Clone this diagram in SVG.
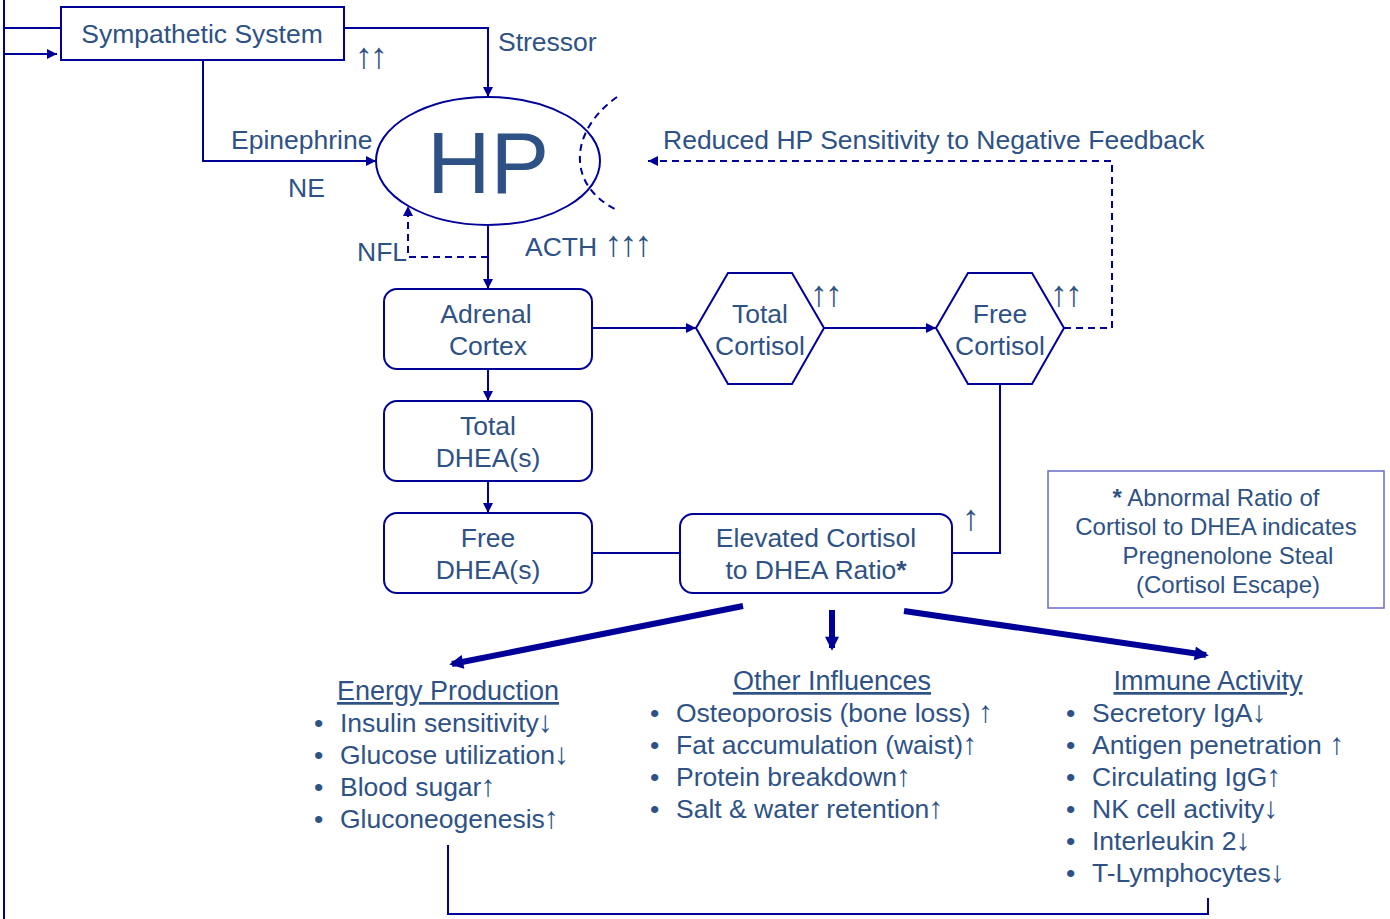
<svg xmlns="http://www.w3.org/2000/svg" width="1390" height="919" viewBox="0 0 1390 919">
<style>
.t{font-family:"Liberation Sans",Arial,sans-serif;font-size:26.5px;fill:#2E5286}
.c{text-anchor:middle}
.ln{fill:none;stroke:#000099;stroke-width:2}
.ds{fill:none;stroke:#000099;stroke-width:2;stroke-dasharray:7,5}
.bx{fill:#fff;stroke:#000099;stroke-width:2}
.th{fill:none;stroke:#000099;stroke-width:6}
.h{font-size:27px;text-decoration:underline}
.n{font-size:24px}
.ar{font-size:36px;letter-spacing:-3px}
.al{font-size:30px}
</style>
<defs>
<marker id="a" viewBox="0 0 10 10" refX="10" refY="5" markerWidth="10" markerHeight="10" markerUnits="userSpaceOnUse" orient="auto"><path d="M0,0 L10,5 L0,10 z" fill="#000099"/></marker>
<marker id="b" viewBox="0 0 10 10" refX="8" refY="5" markerWidth="16" markerHeight="14" markerUnits="userSpaceOnUse" orient="auto"><path d="M0,0 L10,5 L0,10 z" fill="#000099"/></marker>
</defs>
<rect width="1390" height="919" fill="#fff"/>
<g id="sympathetic">
<rect class="bx" x="61" y="7" width="283" height="53"/>
<text class="t c" x="202" y="43">Sympathetic System</text>
</g>
<g id="hp">
<ellipse class="bx" cx="488" cy="161" rx="112" ry="64"/>
<text class="t c" x="488" y="193" style="font-size:88px">HP</text>
</g>
<g id="adrenal">
<rect class="bx" x="384" y="289" width="208" height="80" rx="13"/>
<text class="t c" x="486" y="323">Adrenal</text>
<text class="t c" x="488" y="355">Cortex</text>
</g>
<g id="totaldhea">
<rect class="bx" x="384" y="401" width="208" height="80" rx="13"/>
<text class="t c" x="488" y="435">Total</text>
<text class="t c" x="488" y="467">DHEA(s)</text>
</g>
<g id="freedhea">
<rect class="bx" x="384" y="513" width="208" height="80" rx="13"/>
<text class="t c" x="488" y="547">Free</text>
<text class="t c" x="488" y="579">DHEA(s)</text>
</g>
<g id="totalcortisol">
<polygon class="bx" points="696,328 728,273 792,273 824,328 792,384 728,384"/>
<text class="t c" x="760" y="323">Total</text>
<text class="t c" x="760" y="355">Cortisol</text>
</g>
<g id="freecortisol">
<polygon class="bx" points="936,328 968,273 1032,273 1064,328 1032,384 968,384"/>
<text class="t c" x="1000" y="323">Free</text>
<text class="t c" x="1000" y="355">Cortisol</text>
</g>
<g id="ratio">
<rect class="bx" x="680" y="514" width="272" height="79" rx="13"/>
<text class="t c" x="816" y="547">Elevated Cortisol</text>
<text class="t c" x="816" y="579">to DHEA Ratio<tspan font-weight="bold">*</tspan></text>
</g>
<g id="note">
<rect x="1048" y="471" width="336" height="137" fill="#fff" stroke="#6A6AC8" stroke-width="1.5"/>
<text class="t c n" x="1216" y="506"><tspan font-weight="bold">*</tspan> Abnormal Ratio of</text>
<text class="t c n" x="1216" y="535">Cortisol to DHEA indicates</text>
<text class="t c n" x="1228" y="564">Pregnenolone Steal</text>
<text class="t c n" x="1228" y="593">(Cortisol Escape)</text>
</g>
<g id="connectors">
<path class="ln" d="M4,0 V919"/>
<path class="ln" d="M4,28 H61"/>
<path class="ln" d="M4,54 H57" marker-end="url(#a)"/>
<path class="ln" d="M344,28 H488 V97" marker-end="url(#a)"/>
<path class="ln" d="M203,60 V161 H376" marker-end="url(#a)"/>
<path class="ln" d="M488,225 V289" marker-end="url(#a)"/>
<path class="ds" d="M488,257 H408 V206" marker-end="url(#a)"/>
<path class="ds" d="M617,97 C570,130 565,185 617,210"/>
<path class="ds" d="M1064,328 H1112 V161 H648" marker-end="url(#a)"/>
<path class="ln" d="M488,369 V401" marker-end="url(#a)"/>
<path class="ln" d="M488,481 V513" marker-end="url(#a)"/>
<path class="ln" d="M592,328 H696" marker-end="url(#a)"/>
<path class="ln" d="M824,328 H936" marker-end="url(#a)"/>
<path class="ln" d="M592,553 H680"/>
<path class="ln" d="M952,553 H1000 V384"/>
<path class="th" d="M743,606 L452,664" marker-end="url(#b)"/>
<path class="th" d="M832,610 V648" marker-end="url(#b)"/>
<path class="th" d="M904,611 L1206,655" marker-end="url(#b)"/>
<path class="ln" d="M448,845 V914 H1208 V898"/>
</g>
<g id="labels">
<text class="t" x="498" y="51">Stressor</text>
<text class="t ar" x="355" y="68">↑↑</text>
<text class="t" x="231" y="149">Epinephrine</text>
<text class="t" x="288" y="197">NE</text>
<text class="t" x="357" y="261">NFL</text>
<text class="t" x="525" y="256">ACTH <tspan class="ar">↑↑↑</tspan></text>
<text class="t" x="663" y="149">Reduced HP Sensitivity to Negative Feedback</text>
<text class="t ar" x="810" y="306">↑↑</text>
<text class="t ar" x="1050" y="306">↑↑</text>
<text class="t ar" x="962" y="530">↑</text>
</g>
<g id="energy">
<text class="t c h" x="448" y="700">Energy Production</text>
<text class="t" x="314" y="732">•</text><text class="t" x="340" y="732">Insulin sensitivity<tspan class="al" dx="-1">↓</tspan></text>
<text class="t" x="314" y="764">•</text><text class="t" x="340" y="764">Glucose utilization<tspan class="al" dx="-1">↓</tspan></text>
<text class="t" x="314" y="796">•</text><text class="t" x="340" y="796">Blood sugar<tspan class="al" dx="-1">↑</tspan></text>
<text class="t" x="314" y="828">•</text><text class="t" x="340" y="828">Gluconeogenesis<tspan class="al" dx="-1">↑</tspan></text>
</g>
<g id="other">
<text class="t c h" x="832" y="690">Other Influences</text>
<text class="t" x="650" y="722">•</text><text class="t" x="676" y="722">Osteoporosis (bone loss) <tspan class="al">↑</tspan></text>
<text class="t" x="650" y="754">•</text><text class="t" x="676" y="754">Fat accumulation (waist)<tspan class="al" dx="-1">↑</tspan></text>
<text class="t" x="650" y="786">•</text><text class="t" x="676" y="786">Protein breakdown<tspan class="al" dx="-1">↑</tspan></text>
<text class="t" x="650" y="818">•</text><text class="t" x="676" y="818">Salt &amp; water retention<tspan class="al" dx="-1">↑</tspan></text>
</g>
<g id="immune">
<text class="t c h" x="1208" y="690">Immune Activity</text>
<text class="t" x="1066" y="722">•</text><text class="t" x="1092" y="722">Secretory IgA<tspan class="al" dx="-1">↓</tspan></text>
<text class="t" x="1066" y="754">•</text><text class="t" x="1092" y="754">Antigen penetration <tspan class="al">↑</tspan></text>
<text class="t" x="1066" y="786">•</text><text class="t" x="1092" y="786">Circulating IgG<tspan class="al" dx="-1">↑</tspan></text>
<text class="t" x="1066" y="818">•</text><text class="t" x="1092" y="818">NK cell activity<tspan class="al" dx="-1">↓</tspan></text>
<text class="t" x="1066" y="850">•</text><text class="t" x="1092" y="850">Interleukin 2<tspan class="al" dx="-1">↓</tspan></text>
<text class="t" x="1066" y="882">•</text><text class="t" x="1092" y="882">T-Lymphocytes<tspan class="al" dx="-1">↓</tspan></text>
</g>
</svg>
